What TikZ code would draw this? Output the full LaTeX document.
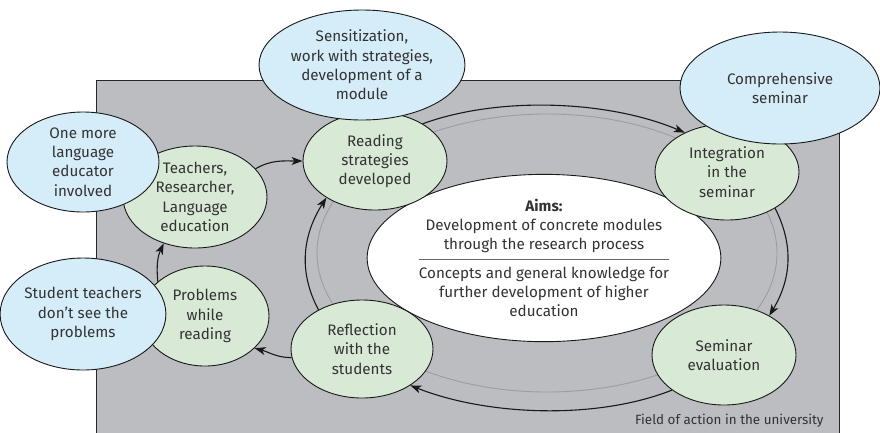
\documentclass[tikz,border=0pt]{standalone}
\usepackage{fontspec}
\setmainfont{Fira Sans}
\usetikzlibrary{shapes.geometric,arrows.meta}
\definecolor{bgray}{HTML}{BCBDC1}
\definecolor{gfill}{HTML}{D8EAD5}
\definecolor{bfill}{HTML}{D5ECF9}
\definecolor{txt}{HTML}{333333}
\definecolor{ringgray}{HTML}{9C9DA1}
\tikzset{
  basenode/.style={ellipse, draw=black!90, line width=0.9pt, inner sep=0pt, align=center,
    text=txt, font=\fontsize{15.2}{19.3}\selectfont},
  greennode/.style={basenode, fill=gfill},
  bluenode/.style={basenode, fill=bfill},
  aimsnode/.style={basenode, fill=white},
  arr/.style={line width=1.1pt, draw=black!90, -{Stealth[length=11pt,width=8pt,inset=3pt]}},
}
\begin{document}
\begin{tikzpicture}[x=1pt,y=1pt]
\useasboundingbox (0,0) rectangle (880,-432);
% field
\draw[fill=bgray, draw=black!85, line width=0.9pt] (96,-80) rectangle (839,-445);
\node[anchor=east, text=txt, font=\fontsize{13.4}{15}\selectfont] (field) at (827,-421) {Field of action in the university};
% inner gray ring
\draw[ringgray, line width=0.9pt] (547,-253) ellipse [x radius=230, y radius=139];
% aims
\node[aimsnode, minimum width=308, minimum height=154] (aims) at (544,-258)
 {\textbf{Aims:}\\Development of concrete modules\\through the research process\\[-9pt]
  {\color{black!60}\rule{250pt}{0.9pt}}\\[-1pt]
  Concepts and general knowledge for\\further development of higher\\education};
% green nodes
\node[greennode, minimum width=144, minimum height=102] (teach) at (195,-197) {Teachers,\\Researcher,\\Language\\education};
\node[greennode, minimum width=144, minimum height=98] (read) at (375,-161) {Reading\\strategies\\developed};
\node[greennode, minimum width=144, minimum height=96] (integ) at (727,-172) {Integration\\in the\\seminar};
\node[greennode, minimum width=144, minimum height=100] (eval) at (724,-355) {Seminar\\evaluation};
\node[greennode, minimum width=142, minimum height=98] (refl) at (362,-349) {Reflection\\with the\\students};
\node[greennode, minimum width=128, minimum height=100] (prob) at (205,-316) {Problems\\while\\reading};
% ring arrows
\draw[arr] (read.38) to[out=20,in=157,looseness=0.8] (integ.137);
\draw[arr] (integ.-37) to[out=-63,in=59] (eval.41);
\draw[arr] (eval.214) to[out=201.6,in=-21.6,looseness=0.8] (refl.323);
\draw[arr] (refl.138) to[out=118,in=237.7] (read.217);
% left arrows
\draw[arr] (teach.25) to[out=30,in=180] (read.180);
\draw[arr] (prob.144) to[out=95,in=-115] (teach.236);
\draw[arr] (refl.187) to[out=180,in=-15] (prob.327);
% blue nodes
\node[bluenode, minimum width=152, minimum height=100] (more) at (83,-162) {One more\\language\\educator\\involved};
\node[bluenode, minimum width=152, minimum height=112] (stud) at (83,-314) {Student teachers\\don’t see the\\problems};
\node[bluenode, minimum width=206, minimum height=110] (sens) at (362,-65) {Sensitization,\\work with strategies,\\development of a\\module};
\node[bluenode, minimum width=200, minimum height=112] (comp) at (780,-88) {Comprehensive\\seminar};
\end{tikzpicture}
\end{document}
